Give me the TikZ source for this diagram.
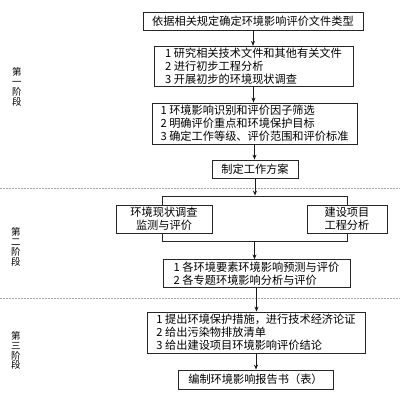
\documentclass[tikz,border=0pt]{standalone}
\usepackage{fontspec}
\setmainfont{Noto Sans CJK SC}
\usetikzlibrary{arrows.meta}
\begin{document}
\begin{tikzpicture}[x=1pt,y=-1pt,
  box/.style={draw=black!85, line width=0.8pt, fill=white, inner xsep=7pt, inner ysep=2pt,
    font=\fontsize{11.2}{13}\selectfont, align=left},
  cbox/.style={box, align=center},
  stage/.style={font=\fontsize{9.5}{9.8}\selectfont, align=center, inner sep=0pt},
  arr/.style={-{Stealth[length=5pt,width=4pt]}, line width=0.9pt, draw=black!90},
  sep/.style={draw=black!35, line width=0.7pt, dash pattern=on 2pt off 1pt}]
\useasboundingbox (0,0) rectangle (400,400);
\draw[sep] (0,188) -- (400,188);
\draw[sep] (0,298) -- (400,298);

\node[cbox, minimum width=220pt, minimum height=18pt] (b1) at (253,21) {依据相关规定确定环境影响评价文件类型};
\node[box, minimum width=199pt, minimum height=39pt] (b2) at (253.5,66.5) {1 研究相关技术文件和其他有关文件\\2 进行初步工程分析\\3 开展初步的环境现状调查};
\node[box, minimum width=205pt, minimum height=41pt] (b3) at (254.5,123.5) {1 环境影响识别和评价因子筛选\\2 明确评价重点和环境保护目标\\3 确定工作等级、评价范围和评价标准};
\node[cbox, minimum width=86pt, minimum height=18pt] (b4) at (255,169) {制定工作方案};

\node[draw=black!85, line width=0.8pt, minimum width=185pt, minimum height=45pt, inner sep=0pt] (frame) at (254.5,218.5) {};
\node[cbox, minimum width=96pt, minimum height=28pt, inner ysep=1pt] (l) at (164,219) {环境现状调查\\监测与评价};
\node[cbox, minimum width=80pt, minimum height=28pt, inner ysep=1pt] (r) at (347,219) {建设项目\\工程分析};

\node[box, minimum width=187pt, minimum height=27pt] (b5) at (256.5,273.5) {1 各环境要素环境影响预测与评价\\2 各专题环境影响分析与评价};
\node[box, minimum width=218pt, minimum height=41pt, inner xsep=4pt] (b6) at (256,332.5) {1 提出环境保护措施，进行技术经济论证\\2 给出污染物排放清单\\3 给出建设项目环境影响评价结论};
\node[cbox, minimum width=155pt, minimum height=19pt] (b7) at (255.5,379.5) {编制环境影响报告书（表）};

\node[stage] (s1) at (17,87) {第\\一\\阶\\段};
\node[stage] (s2) at (16,247) {第\\二\\阶\\段};
\node[stage] (s3) at (16,350.5) {第\\三\\阶\\段};

\draw[arr] (b1.south) -- (b1.south |- b2.north);
\draw[arr] (b2.south) -- (b2.south |- b3.north);
\draw[arr] (b3.south) -- (b3.south |- b4.north);
\draw[arr] (b4.south) -- (b4.south |- frame.north);
\draw[arr] (frame.south) -- (frame.south |- b5.north);
\draw[arr] (b5.south) -- (b5.south |- b6.north);
\draw[arr] (b6.south) -- (b6.south |- b7.north);
\end{tikzpicture}
\end{document}
